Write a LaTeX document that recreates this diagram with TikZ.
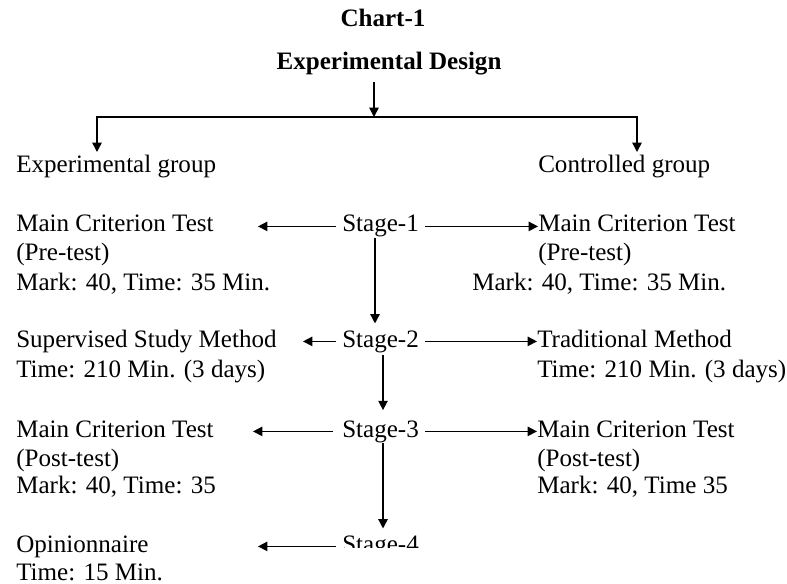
\documentclass[tikz,border=0pt]{standalone}
\usepackage{fontspec}
\setmainfont{Liberation Serif}
\usetikzlibrary{arrows.meta}
\begin{document}
\begin{tikzpicture}[x=0.75pt,y=-0.75pt,
  txt/.style={anchor=base west,inner sep=0pt,font=\fontsize{18.8}{21}\selectfont},
  ttl/.style={anchor=base,inner sep=0pt,font=\fontsize{18.8}{21}\selectfont\bfseries},
  stg/.style={anchor=base west,inner xsep=4.5pt,inner ysep=0pt,font=\fontsize{18.8}{21}\selectfont},
  tip/.style={-{Triangle[length=7pt,width=7pt]}},
  arr/.style={draw,line width=1.1pt,tip},
  fork/.style={draw,line width=1.1pt,line join=miter,{Triangle[length=7pt,width=7pt]}-{Triangle[length=7pt,width=7pt]}}]
\useasboundingbox (0,0) rectangle (787,584);
% titles
\node[ttl] (chart) at (383,27) {Chart-1};
\node[ttl] (design) at (389,70) {Experimental Design};
\coordinate (split) at (374,117);
\draw[arr,shorten <=5pt] (design.south -| split) -- (split);
% groups
\node[txt] (eg) at (16,173) {Experimental group};
\node[txt] (cg) at (538,173) {Controlled group};
\coordinate (egtip) at (97,152);
\coordinate (cgtip) at (637,152);
\draw[fork] (egtip) |- (split) -| (cgtip);
% stage 1
\node[stg] (s1) at (336,232) {Stage-1};
\node[txt] (l1a) at (16,232) {Main Criterion Test};
\node[txt] (l1b) at (16,261) {(Pre-test)};
\node[txt] (l1c) at (16,290) {Mark: 40, Time: 35 Min.};
\node[txt] (r1a) at (538,232) {Main Criterion Test};
\node[txt] (r1b) at (538,261) {(Pre-test)};
\node[txt] (r1c) at (472,290) {Mark: 40, Time: 35 Min.};
\coordinate (t1) at (258,0);
\draw[arr] (s1.west) -- (s1.west -| t1);
\draw[arr] (s1.east) -- (s1.east -| r1a.west);
% stage 2
\node[stg] (s2) at (336,347) {Stage-2};
\node[txt] (l2a) at (16,347) {Supervised Study Method};
\node[txt] (l2b) at (16,377) {Time: 210 Min. (3 days)};
\node[txt] (r2a) at (537,347) {Traditional Method};
\node[txt] (r2b) at (537,377) {Time: 210 Min. (3 days)};
\coordinate (t2) at (303,0);
\draw[arr] (s2.west) -- (s2.west -| t2);
\draw[arr] (s2.east) -- (s2.east -| r2a.west);
\coordinate (v1) at (375,0);
\draw[arr,shorten >=5pt] (s1.south -| v1) -- (s2.north -| v1);
% stage 3
\node[stg] (s3) at (336,437) {Stage-3};
\node[txt] (l3a) at (16,437) {Main Criterion Test};
\node[txt] (l3b) at (16,466) {(Post-test)};
\node[txt] (l3c) at (16,493) {Mark: 40, Time: 35};
\node[txt] (r3a) at (537,437) {Main Criterion Test};
\node[txt] (r3b) at (537,466) {(Post-test)};
\node[txt] (r3c) at (537,493) {Mark: 40, Time 35};
\coordinate (t3) at (253,0);
\draw[arr,shorten <=2pt] (s3.west) -- (s3.west -| t3);
\draw[arr] (s3.east) -- (s3.east -| r3a.west);
\coordinate (v2) at (383,0);
\draw[arr,shorten <=2pt,shorten >=7.5pt] (s2.south -| v2) -- (s3.north -| v2);
% stage 4 (cut off at the bottom as in the source)
\begin{scope}
\clip (320,520) rectangle (440,547);
\node[stg] (s4) at (336,552) {Stage-4};
\end{scope}
\node[txt] (l4a) at (16,552) {Opinionnaire};
\node[txt] (l4b) at (16,580) {Time: 15 Min.};
\coordinate (t4) at (258,0);
\draw[arr] (s4.west) -- (s4.west -| t4);
\draw[arr,shorten >=5pt] (s3.south -| v2) -- (s4.north -| v2);
\end{tikzpicture}
\end{document}
